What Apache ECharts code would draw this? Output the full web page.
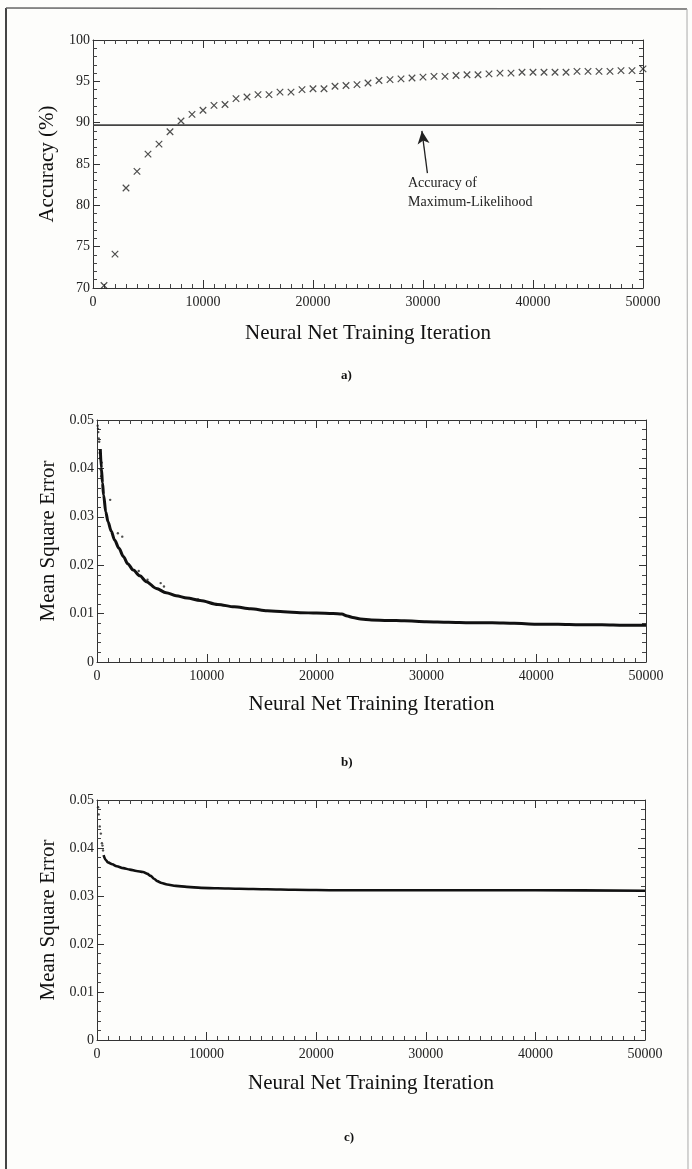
<!DOCTYPE html>
<html>
<head>
<meta charset="utf-8">
<title>Neural Net Training</title>
<script src="https://cdn.jsdelivr.net/npm/echarts@6/dist/echarts.min.js"></script>
<style>
  html, body { margin: 0; padding: 0; background: #fdfdfb; }
  #chart { width: 692px; height: 1169px; }
</style>
</head>
<body>
<div id="chart"></div>
<script>
// a) classification accuracy, one cross every 1000 iterations
var accIter = [1000, 2000, 3000, 4000, 5000, 6000, 7000, 8000, 9000, 10000,
  11000, 12000, 13000, 14000, 15000, 16000, 17000, 18000, 19000, 20000,
  21000, 22000, 23000, 24000, 25000, 26000, 27000, 28000, 29000, 30000,
  31000, 32000, 33000, 34000, 35000, 36000, 37000, 38000, 39000, 40000,
  41000, 42000, 43000, 44000, 45000, 46000, 47000, 48000, 49000, 50000];
var accValue = [70.3, 74.1, 82.1, 84.1, 86.2, 87.4, 88.9, 90.2, 91.0, 91.5,
  92.1, 92.2, 92.9, 93.1, 93.4, 93.4, 93.7, 93.7, 94.0, 94.1,
  94.1, 94.4, 94.5, 94.6, 94.8, 95.1, 95.2, 95.3, 95.4, 95.5,
  95.6, 95.6, 95.7, 95.8, 95.8, 95.9, 96.0, 96.0, 96.1, 96.1,
  96.1, 96.1, 96.1, 96.2, 96.2, 96.2, 96.2, 96.3, 96.3, 96.5];
var mlAccuracy = 89.7;
var arrowFrom = [30400, 83.9];
var arrowTo = [29900, 89.0];

// b) mean square error, main curve + stray points
var mseBIter = [300, 400, 500, 600, 800, 1000, 1300, 1600, 2000, 2400, 2800, 3300,
  3900, 4500, 5400, 6300, 7200, 8200, 9400, 11000, 12500, 14000, 15500, 17000,
  18500, 20000, 21500, 22300, 22800, 23300, 24000, 25000, 26500, 28000, 30000,
  32000, 34000, 36000, 38000, 40000, 42000, 44000, 46000, 48000, 50000];
var mseBValue = [0.044, 0.040, 0.037, 0.0345, 0.031, 0.029, 0.027, 0.0252, 0.0235,
  0.0218, 0.0203, 0.019, 0.0178, 0.0166, 0.0152, 0.0143, 0.0137, 0.0132, 0.0127,
  0.0119, 0.0114, 0.011, 0.0106, 0.0104, 0.0102, 0.0101, 0.0100, 0.0099, 0.0095,
  0.0092, 0.0089, 0.0087, 0.0086, 0.0085, 0.0083, 0.0082, 0.0081, 0.0081, 0.0080,
  0.0078, 0.0078, 0.0077, 0.0077, 0.0076, 0.0076];
var strayBIter = [60, 90, 120, 160, 200, 240, 280, 330, 380, 430, 1200, 1900, 2300, 3800, 4600, 5800, 6100, 8600, 9200];
var strayBValue = [0.0488, 0.0482, 0.0475, 0.0462, 0.0455, 0.0432, 0.0421, 0.0398, 0.0384, 0.0412,
  0.0335, 0.0266, 0.0259, 0.0188, 0.0170, 0.0163, 0.0156, 0.0131, 0.0129];

// c) mean square error, second network
var mseCIter = [600, 800, 1000, 1400, 1800, 2400, 3000, 3600, 4200, 4600, 4900, 5200,
  5500, 5900, 6400, 7200, 8200, 9500, 11000, 13000, 15500, 18000, 22000, 30000, 40000, 50000];
var mseCValue = [0.0385, 0.0375, 0.0370, 0.0366, 0.0362, 0.0358, 0.0355, 0.0352, 0.0350,
  0.0346, 0.0342, 0.0336, 0.0331, 0.0327, 0.0324, 0.0321, 0.0319, 0.0317, 0.0316,
  0.0315, 0.0314, 0.0313, 0.0312, 0.0312, 0.0312, 0.0311];
var strayCIter = [100, 150, 250, 350, 450, 500, 550];
var strayCValue = [0.0485, 0.0470, 0.0445, 0.0430, 0.0410, 0.0405, 0.0395];

var xTicks = ["0", "10000", "20000", "30000", "40000", "50000"];
var serif = "'Liberation Serif', 'DejaVu Serif', serif";
var ink = "#222";

function zip(xs, ys) {
  var out = [];
  for (var i = 0; i < xs.length; i++) out.push([xs[i], ys[i]]);
  return out;
}

// bottom axis with labels + plain mirrored top axis
function makeXAxes(grid, nameGap) {
  var base = {
    type: "value", gridIndex: grid, min: 0, max: 50000, interval: 10000,
    axisLine: { onZero: false, lineStyle: { color: "#333", width: 1 } },
    axisTick: { inside: true, length: 8, lineStyle: { color: "#333" } },
    minorTick: { show: true, splitNumber: 10, length: 4, lineStyle: { color: "#444" } },
    splitLine: { show: false }
  };
  var bottom = Object.assign({}, base, {
    position: "bottom",
    name: "Neural Net Training Iteration",
    nameLocation: "middle",
    nameGap: nameGap,
    nameTextStyle: { fontFamily: serif, fontSize: 21, color: "#111" },
    axisLabel: {
      fontFamily: serif, fontSize: 14, color: ink, margin: 7,
      formatter: function (v) { return xTicks[v / 10000]; }
    }
  });
  var top = Object.assign({}, base, { position: "top", axisLabel: { show: false } });
  return [bottom, top];
}

function makeYAxes(grid, min, max, step, name, nameGap, fmt) {
  var base = {
    type: "value", gridIndex: grid, min: min, max: max, interval: step,
    axisLine: { onZero: false, lineStyle: { color: "#333", width: 1 } },
    axisTick: { inside: true, length: 7, lineStyle: { color: "#333" } },
    minorTick: { show: true, splitNumber: 5, length: 4, lineStyle: { color: "#444" } },
    splitLine: { show: false }
  };
  var left = Object.assign({}, base, {
    position: "left",
    name: name,
    nameLocation: "middle",
    nameGap: nameGap,
    nameTextStyle: { fontFamily: serif, fontSize: 21, color: "#111" },
    axisLabel: { fontFamily: serif, fontSize: 14, color: ink, margin: 3, formatter: fmt }
  });
  var right = Object.assign({}, base, { position: "right", axisLabel: { show: false } });
  return [left, right];
}

var mseFmt = function (v) { return v === 0 ? "0" : v.toFixed(2); };
var accFmt = function (v) { return String(v); };

var xA = makeXAxes(0, 35), xB = makeXAxes(1, 32), xC = makeXAxes(2, 33);
var yA = makeYAxes(0, 70, 100, 5, "Accuracy (%)", 29, accFmt);
var yB = makeYAxes(1, 0, 0.05, 0.01, "Mean Square Error", 36, mseFmt);
var yC = makeYAxes(2, 0, 0.05, 0.01, "Mean Square Error", 36, mseFmt);

var crossSymbol = "path://M0,0L10,10M10,0L0,10";

var option = {
  backgroundColor: "#fdfdfb",
  animation: false,
  grid: [
    { left: 93, top: 40, width: 550, height: 248 },
    { left: 97, top: 420, width: 549, height: 242 },
    { left: 97, top: 800, width: 548, height: 240 }
  ],
  xAxis: [xA[0], xA[1], xB[0], xB[1], xC[0], xC[1]],
  yAxis: [yA[0], yA[1], yB[0], yB[1], yC[0], yC[1]],
  series: [
    {
      name: "Accuracy",
      type: "scatter",
      xAxisIndex: 0, yAxisIndex: 0,
      data: zip(accIter, accValue),
      symbol: crossSymbol,
      symbolSize: 6.5,
      itemStyle: { color: "rgba(0,0,0,0)", borderColor: "#222", borderWidth: 1.2 }
    },
    {
      name: "Accuracy of Maximum-Likelihood",
      type: "line",
      xAxisIndex: 0, yAxisIndex: 0,
      data: [[0, mlAccuracy], [50000, mlAccuracy]],
      symbol: "none",
      lineStyle: { color: "#444", width: 1.7 },
      markLine: {
        silent: true,
        symbol: ["none", "arrow"],
        symbolSize: [9, 13],
        label: { show: false },
        lineStyle: { color: "#222", width: 1.3, type: "solid" },
        data: [[{ coord: arrowFrom }, { coord: arrowTo }]]
      }
    },
    {
      name: "MSE b",
      type: "line",
      xAxisIndex: 2, yAxisIndex: 2,
      data: zip(mseBIter, mseBValue),
      symbol: "none",
      smooth: 0.3,
      smoothMonotone: "x",
      lineStyle: { color: "#111", width: 3 }
    },
    {
      name: "MSE b points",
      type: "scatter",
      xAxisIndex: 2, yAxisIndex: 2,
      data: zip(strayBIter, strayBValue),
      symbolSize: 2.4,
      itemStyle: { color: "#222" }
    },
    {
      name: "MSE c",
      type: "line",
      xAxisIndex: 4, yAxisIndex: 4,
      data: zip(mseCIter, mseCValue),
      symbol: "none",
      smooth: 0.3,
      smoothMonotone: "x",
      lineStyle: { color: "#111", width: 2.6 }
    },
    {
      name: "MSE c points",
      type: "scatter",
      xAxisIndex: 4, yAxisIndex: 4,
      data: zip(strayCIter, strayCValue),
      symbolSize: 2.4,
      itemStyle: { color: "#222" }
    }
  ],
  graphic: [
    // page frame
    { type: "line", shape: { x1: 6, y1: 8, x2: 6, y2: 1169 }, style: { stroke: "#444", lineWidth: 2 } },
    { type: "line", shape: { x1: 6, y1: 8, x2: 687, y2: 9 }, style: { stroke: "#666", lineWidth: 1.5 } },
    { type: "line", shape: { x1: 687, y1: 9, x2: 688, y2: 1169 }, style: { stroke: "#aaa", lineWidth: 1 } },
    { type: "text", left: 408, top: 176, style: { text: "Accuracy of", font: "14px " + serif, fill: ink } },
    { type: "text", left: 408, top: 195, style: { text: "Maximum-Likelihood", font: "14px " + serif, fill: ink } },
    { type: "text", left: 341, top: 369, style: { text: "a)", font: "bold 13px " + serif, fill: "#111" } },
    { type: "text", left: 341, top: 756, style: { text: "b)", font: "bold 13px " + serif, fill: "#111" } },
    { type: "text", left: 344, top: 1131, style: { text: "c)", font: "bold 13px " + serif, fill: "#111" } }
  ]
};

var chart = echarts.init(document.getElementById("chart"));
chart.setOption(option);
</script>
</body>
</html>
